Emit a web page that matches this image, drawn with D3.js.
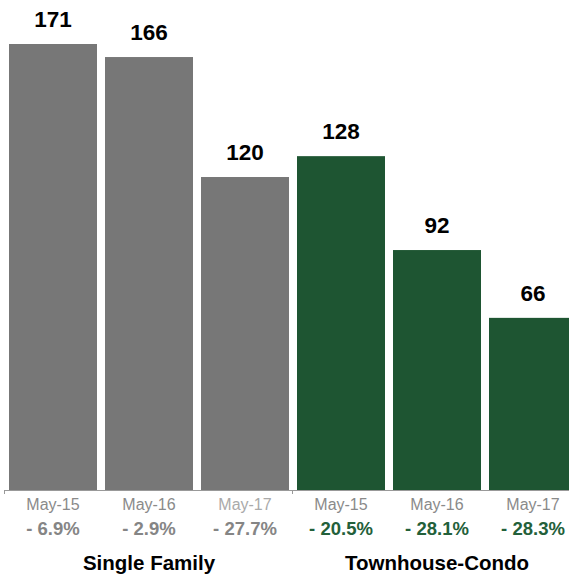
<!DOCTYPE html>
<html>
<head>
<meta charset="utf-8">
<script src="https://cdn.jsdelivr.net/npm/d3@7"></script>
<style>
  body { margin: 0; background: #fff; }
  text { font-family: "Liberation Sans", Arial, Helvetica, sans-serif; }
</style>
</head>
<body>
<div class="chart"></div>
<script>
// chart values
var groups = ["Single Family", "Townhouse-Condo"];
var months = ["May-15", "May-16", "May-17"];
var singleFamily = [171, 166, 120];
var townhouseCondo = [128, 92, 66];
var singleChange = ["- 6.9%", "- 2.9%", "- 27.7%"];
var townChange = ["- 20.5%", "- 28.1%", "- 28.3%"];

var svgWidth = 569, svgHeight = 578;

// flatten to one row per bar
var rows = [];
months.forEach(function(m, i) {
  rows.push({ key: "sf" + i, group: 0, month: m, value: singleFamily[i], change: singleChange[i] });
});
months.forEach(function(m, i) {
  rows.push({ key: "tc" + i, group: 1, month: m, value: townhouseCondo[i], change: townChange[i] });
});

var colors = ["#777777", "#1e5532"];
var changeColors = ["#858585", "#23603a"];

var svg = d3.select(".chart")
  .append("svg")
  .attr("width", svgWidth)
  .attr("height", svgHeight);

// band scale, 96px per bar incl. 8px gap
var xScale = d3.scaleBand()
  .domain(rows.map(d => d.key))
  .range([5, 581])
  .paddingInner(8 / 96)
  .paddingOuter(4 / 96);

var yScale = d3.scaleLinear()
  .domain([0, 171])
  .range([490, 44]);

// bars
svg.selectAll("rect.bar")
  .data(rows)
  .enter()
  .append("rect")
  .attr("class", "bar")
  .attr("x", d => xScale(d.key))
  .attr("y", d => yScale(d.value))
  .attr("width", xScale.bandwidth())
  .attr("height", d => yScale(0) - yScale(d.value))
  .attr("fill", d => colors[d.group]);

// value labels above bars
svg.selectAll("text.val")
  .data(rows)
  .enter()
  .append("text")
  .attr("class", "val")
  .attr("x", d => xScale(d.key) + xScale.bandwidth() / 2)
  .attr("y", d => yScale(d.value) - 17)
  .attr("text-anchor", "middle")
  .attr("font-size", "22.5px")
  .attr("font-weight", "bold")
  .attr("fill", "#000")
  .text(d => d.value);

// baseline axis
var step = xScale.step();
svg.append("line")
  .attr("x1", 4).attr("x2", svgWidth)
  .attr("y1", yScale(0) + 0.5).attr("y2", yScale(0) + 0.5)
  .attr("stroke", "#999").attr("stroke-width", 1);

[0, 3].forEach(function(i) {
  var tx = Math.round(xScale(rows[i].key) - xScale.paddingInner() * step / 2) - 0.5;
  svg.append("line")
    .attr("x1", tx).attr("x2", tx)
    .attr("y1", yScale(0)).attr("y2", yScale(0) + 4)
    .attr("stroke", "#999");
});

// month labels
svg.selectAll("text.month")
  .data(rows)
  .enter()
  .append("text")
  .attr("class", "month")
  .attr("x", d => xScale(d.key) + xScale.bandwidth() / 2)
  .attr("y", 510)
  .attr("text-anchor", "middle")
  .attr("font-size", "16px")
  .attr("fill", d => (d.key == "sf2") ? "#aaaaaa" : "#8a8a8a")
  .text(d => d.month);

// percent change labels
svg.selectAll("text.change")
  .data(rows)
  .enter()
  .append("text")
  .attr("class", "change")
  .attr("x", d => xScale(d.key) + xScale.bandwidth() / 2)
  .attr("y", 535)
  .attr("text-anchor", "middle")
  .attr("font-size", "18.5px")
  .attr("font-weight", "bold")
  .attr("fill", d => changeColors[d.group])
  .text(d => d.change);

// group labels centred under each set of three
groups.forEach(function(g, gi) {
  var mid = xScale(rows[gi * 3 + 1].key) + xScale.bandwidth() / 2;
  svg.append("text")
    .attr("x", mid)
    .attr("y", 570)
    .attr("text-anchor", "middle")
    .attr("font-size", "20.5px")
    .attr("font-weight", "bold")
    .attr("fill", "#000")
    .text(g);
});
</script>
</body>
</html>
